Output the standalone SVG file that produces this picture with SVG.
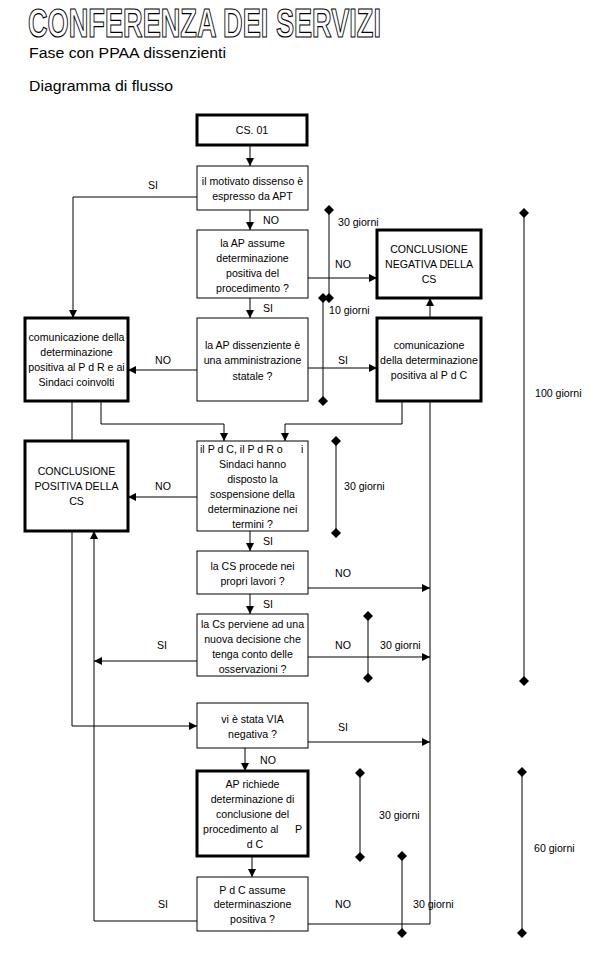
<svg xmlns="http://www.w3.org/2000/svg" width="597" height="956" viewBox="0 0 597 956">
<defs>
<marker id="arr" markerUnits="userSpaceOnUse" markerWidth="9" markerHeight="9" refX="8" refY="4" orient="auto"><path d="M0,0 L8,4 L0,8 z" fill="#000"/></marker>
<marker id="dia" markerUnits="userSpaceOnUse" markerWidth="11" markerHeight="11" refX="5" refY="5" orient="0"><path d="M5,0 L10,5 L5,10 L0,5 z" fill="#000"/></marker>
<style>
text{font-family:"Liberation Sans",Arial,sans-serif;font-size:10.6px;fill:#000}
.c{text-anchor:middle}
.box{fill:#fff;stroke:#000;stroke-width:1}
.thick{fill:#fff;stroke:#000;stroke-width:3}
.ln{fill:none;stroke:#000;stroke-width:1}
.ar{fill:none;stroke:#000;stroke-width:1;marker-end:url(#arr)}
.tl{fill:none;stroke:#000;stroke-width:1;marker-start:url(#dia);marker-end:url(#dia)}
.hd{font-size:14px}
</style>
</defs>
<rect width="597" height="956" fill="#fff"/>
<g id="title">
<text x="28" y="37" textLength="353" lengthAdjust="spacingAndGlyphs" style="font-size:40px;font-weight:bold;fill:#fff;stroke:#000;stroke-width:1.2">CONFERENZA DEI SERVIZI</text>
<text class="hd" x="29" y="58" textLength="197" lengthAdjust="spacingAndGlyphs">Fase con PPAA dissenzienti</text>
<text class="hd" x="29" y="91" textLength="144" lengthAdjust="spacingAndGlyphs">Diagramma di flusso</text>
</g>
<g id="connectors">
<path class="ar" d="M250,145 V166"/>
<path class="ar" d="M250,210 V230"/>
<path class="ar" d="M197,197 H73 V318"/>
<path class="ar" d="M308,278 H377"/>
<path class="ar" d="M250,298 V318"/>
<path class="ar" d="M308,368 H377"/>
<path class="ar" d="M197,370 H128"/>
<path class="ar" d="M430,318 V298"/>
<path class="ar" d="M402,401 V424 H285 V441"/>
<path class="ln" d="M430,401 V924"/>
<path class="ar" d="M101,401 V424 H224 V441"/>
<path class="ln" d="M72,401 V440"/>
<path class="ar" d="M72,531 V726 H197"/>
<path class="ar" d="M197,497 H128"/>
<path class="ar" d="M250,531 V551"/>
<path class="ar" d="M308,588 H430"/>
<path class="ar" d="M250,594 V614"/>
<path class="ar" d="M197,661 H94"/>
<path class="ar" d="M308,657 H430"/>
<path class="ar" d="M308,742 H430"/>
<path class="ar" d="M245,748 V771"/>
<path class="ar" d="M252,856 V877"/>
<path class="ar" d="M197,921 H94 V531"/>
<path class="ln" d="M308,924 H430"/>
<text class="c" x="153" y="189">SI</text>
<text x="263" y="224">NO</text>
<text class="c" x="343" y="268">NO</text>
<text x="263" y="312">SI</text>
<text class="c" x="343" y="364">SI</text>
<text class="c" x="163" y="364">NO</text>
<text class="c" x="163" y="490">NO</text>
<text x="263" y="545">SI</text>
<text class="c" x="343" y="577">NO</text>
<text x="263" y="608">SI</text>
<text class="c" x="162" y="649">SI</text>
<text class="c" x="343" y="649">NO</text>
<text class="c" x="343" y="731">SI</text>
<text x="260" y="764">NO</text>
<text class="c" x="163" y="908">SI</text>
<text class="c" x="343" y="908">NO</text>
</g>
<g id="timelines">
<path class="tl" d="M329,210 V298"/>
<text x="338" y="226">30 giorni</text>
<path class="tl" d="M323,298 V401"/>
<text x="329" y="314">10 giorni</text>
<path class="tl" d="M336,441 V533"/>
<text x="344" y="490">30 giorni</text>
<path class="tl" d="M368,616 V678"/>
<text x="380" y="649">30 giorni</text>
<path class="tl" d="M360,773 V857"/>
<text x="379" y="819">30 giorni</text>
<path class="tl" d="M402,856 V933"/>
<text x="413" y="908">30 giorni</text>
<path class="tl" d="M524,213 V681"/>
<text x="535" y="397">100 giorni</text>
<path class="tl" d="M522,772 V933"/>
<text x="534" y="852">60 giorni</text>
</g>
<g id="cs01">
<rect class="thick" x="197" y="115" width="110" height="30"/>
<text class="c" x="252" y="134">CS. 01</text>
</g>
<g id="dissenso">
<rect class="box" x="197" y="166" width="111" height="44"/>
<text class="c" x="252.5" y="185">il motivato dissenso è</text>
<text class="c" x="252.5" y="200">espresso da APT</text>
</g>
<g id="ap-assume">
<rect class="box" x="197" y="230" width="111" height="68"/>
<text class="c" x="252.5" y="247">la AP assume</text>
<text class="c" x="252.5" y="262">determinazione</text>
<text class="c" x="252.5" y="277">positiva del</text>
<text class="c" x="252.5" y="292">procedimento ?</text>
</g>
<g id="concl-negativa">
<rect class="thick" x="377" y="230" width="104" height="68"/>
<text class="c" x="429" y="253">CONCLUSIONE</text>
<text class="c" x="429" y="268">NEGATIVA DELLA</text>
<text class="c" x="429" y="283">CS</text>
</g>
<g id="ap-statale">
<rect class="box" x="197" y="318" width="111" height="83"/>
<text class="c" x="252.5" y="349">la AP dissenziente è</text>
<text class="c" x="252.5" y="364">una amministrazione</text>
<text class="c" x="252.5" y="380">statale ?</text>
</g>
<g id="com-pdr">
<rect class="thick" x="25" y="318" width="103" height="83"/>
<text class="c" x="76.5" y="341">comunicazione della</text>
<text class="c" x="76.5" y="356">determinazione</text>
<text class="c" x="76.5" y="371">positiva al P d R e ai</text>
<text class="c" x="76.5" y="386">Sindaci coinvolti</text>
</g>
<g id="com-pdc">
<rect class="thick" x="377" y="318" width="104" height="83"/>
<text class="c" x="429" y="349">comunicazione</text>
<text class="c" x="429" y="364">della determinazione</text>
<text class="c" x="429" y="379">positiva al P d C</text>
</g>
<g id="sospensione">
<rect class="box" x="197" y="441" width="111" height="90"/>
<text x="200" y="453">il P d C, il P d R o<tspan x="301">i</tspan></text>
<text class="c" x="252.5" y="468">Sindaci hanno</text>
<text class="c" x="252.5" y="483">disposto la</text>
<text class="c" x="252.5" y="498">sospensione della</text>
<text class="c" x="252.5" y="513">determinazione nei</text>
<text class="c" x="252.5" y="528">termini ?</text>
</g>
<g id="concl-positiva">
<rect class="thick" x="25" y="441" width="103" height="90"/>
<text class="c" x="76.5" y="475">CONCLUSIONE</text>
<text class="c" x="76.5" y="490">POSITIVA DELLA</text>
<text class="c" x="76.5" y="505">CS</text>
</g>
<g id="cs-procede">
<rect class="box" x="197" y="551" width="111" height="43"/>
<text class="c" x="252.5" y="570">la CS procede nei</text>
<text class="c" x="252.5" y="585">propri lavori ?</text>
</g>
<g id="nuova-decisione">
<rect class="box" x="197" y="614" width="111" height="62"/>
<text class="c" x="252.5" y="628">la Cs perviene ad una</text>
<text class="c" x="252.5" y="643">nuova decisione che</text>
<text class="c" x="252.5" y="658">tenga conto delle</text>
<text class="c" x="252.5" y="673">osservazioni ?</text>
</g>
<g id="via">
<rect class="box" x="197" y="703" width="111" height="45"/>
<text class="c" x="252.5" y="723">vi è stata VIA</text>
<text class="c" x="252.5" y="738">negativa ?</text>
</g>
<g id="ap-richiede">
<rect class="thick" x="197" y="771" width="111" height="85"/>
<text class="c" x="252.5" y="788">AP richiede</text>
<text class="c" x="252.5" y="803">determinazione di</text>
<text class="c" x="252.5" y="818">conclusione del</text>
<text x="203" y="833">procedimento al<tspan x="295">P</tspan></text>
<text class="c" x="255" y="848">d C</text>
</g>
<g id="pdc-assume">
<rect class="box" x="197" y="877" width="111" height="54"/>
<text class="c" x="252.5" y="894">P d C assume</text>
<text class="c" x="252.5" y="908">determinaszione</text>
<text class="c" x="252.5" y="923">positiva ?</text>
</g>
</svg>
